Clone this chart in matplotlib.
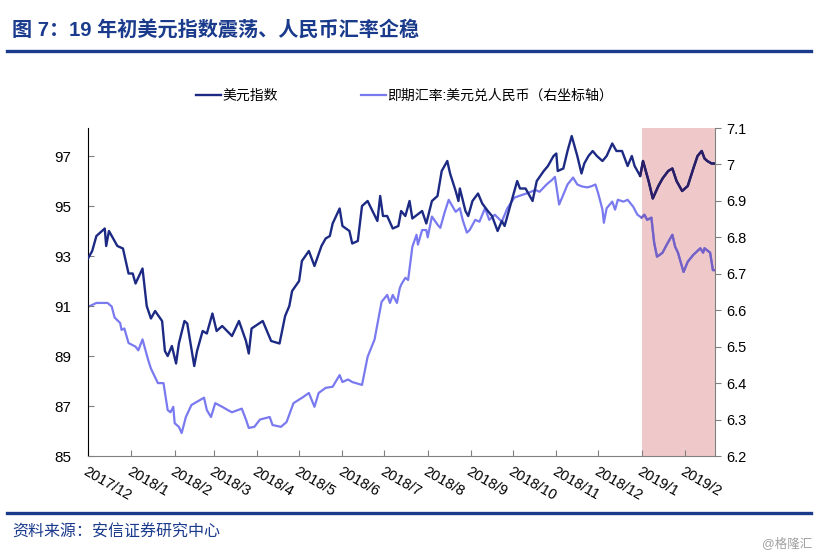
import matplotlib
matplotlib.use("Agg")
import matplotlib.pyplot as plt
import numpy as np
import pandas as pd

plt.rcParams["font.family"] = ["Liberation Sans", "Noto Sans CJK SC"]

# 美元指数 (left axis)
dxy_dates = [
    "2017-12-01", "2017-12-04", "2017-12-07", "2017-12-13", "2017-12-14", "2017-12-16",
    "2017-12-22", "2017-12-26", "2017-12-30", "2018-01-02", "2018-01-04", "2018-01-09",
    "2018-01-12", "2018-01-15", "2018-01-18", "2018-01-23", "2018-01-25", "2018-01-27",
    "2018-01-30", "2018-02-02", "2018-02-04", "2018-02-08", "2018-02-10", "2018-02-15",
    "2018-02-17", "2018-02-21", "2018-02-24", "2018-02-28", "2018-03-03", "2018-03-07",
    "2018-03-14", "2018-03-19", "2018-03-24", "2018-03-26", "2018-03-28", "2018-04-05",
    "2018-04-11", "2018-04-17", "2018-04-21", "2018-04-24", "2018-04-26", "2018-05-01",
    "2018-05-03", "2018-05-08", "2018-05-12", "2018-05-17", "2018-05-20", "2018-05-23",
    "2018-05-25", "2018-05-30", "2018-06-01", "2018-06-06", "2018-06-08", "2018-06-12",
    "2018-06-15", "2018-06-19", "2018-06-26", "2018-06-28", "2018-06-30", "2018-07-03",
    "2018-07-07", "2018-07-11", "2018-07-13", "2018-07-16", "2018-07-19", "2018-07-21",
    "2018-07-28", "2018-07-31", "2018-08-04", "2018-08-08", "2018-08-11", "2018-08-15",
    "2018-08-17", "2018-08-21", "2018-08-23", "2018-08-24", "2018-08-28", "2018-08-30",
    "2018-09-02", "2018-09-06", "2018-09-09", "2018-09-13", "2018-09-16", "2018-09-20",
    "2018-09-23", "2018-09-25", "2018-09-29", "2018-10-04", "2018-10-06", "2018-10-10",
    "2018-10-12", "2018-10-15", "2018-10-18", "2018-10-23", "2018-10-26", "2018-10-30",
    "2018-11-01", "2018-11-02", "2018-11-06", "2018-11-09", "2018-11-12", "2018-11-16",
    "2018-11-19", "2018-11-21", "2018-11-24", "2018-11-27", "2018-11-30", "2018-12-04",
    "2018-12-07", "2018-12-11", "2018-12-14", "2018-12-18", "2018-12-22", "2018-12-25",
    "2018-12-27", "2018-12-31", "2019-01-02", "2019-01-06", "2019-01-09", "2019-01-13",
    "2019-01-16", "2019-01-20", "2019-01-23", "2019-01-26", "2019-01-30", "2019-02-03",
    "2019-02-07", "2019-02-10", "2019-02-13", "2019-02-15", "2019-02-17", "2019-02-20",
    "2019-02-22",
]
dxy_vals = [
    92.9, 93.2, 93.8, 94.1, 93.4, 94.0,
    93.4, 93.3, 92.3, 92.3, 91.9, 92.5,
    91.0, 90.5, 90.8, 90.4, 89.2, 89.0,
    89.4, 88.7, 89.5, 90.4, 90.3, 88.6,
    89.2, 90.0, 89.9, 90.7, 90.0, 90.2,
    89.8, 90.4, 89.6, 89.1, 90.1, 90.4,
    89.6, 89.5, 90.6, 91.0, 91.6, 92.0,
    92.8, 93.2, 92.6, 93.4, 93.7, 93.8,
    94.3, 94.9, 94.2, 94.0, 93.5, 93.6,
    95.0, 95.2, 94.4, 95.4, 94.6, 94.6,
    94.1, 94.2, 94.8, 94.6, 95.2, 94.5,
    94.8, 94.3, 95.2, 95.4, 96.4, 96.8,
    96.3, 95.6, 95.2, 95.7, 94.8, 94.6,
    95.2, 95.5, 95.1, 94.8, 94.6, 94.0,
    94.4, 94.2, 95.0, 96.0, 95.7, 95.7,
    95.5, 95.2, 96.0, 96.4, 96.6, 97.0,
    97.1, 96.4, 96.5, 97.2, 97.8, 97.0,
    96.3, 96.7, 97.0, 97.2, 97.0, 96.8,
    97.0, 97.5, 97.2, 97.2, 96.6, 97.0,
    96.6, 96.2, 96.8, 96.0, 95.3, 95.8,
    96.1, 96.4, 96.5, 96.0, 95.6, 95.8,
    96.5, 97.0, 97.2, 96.9, 96.8, 96.7,
    96.7,
]

# 即期汇率:美元兑人民币 (right axis)
cny_dates = [
    "2017-12-01", "2017-12-07", "2017-12-15", "2017-12-18", "2017-12-20", "2017-12-24",
    "2017-12-25", "2017-12-27", "2017-12-30", "2018-01-04", "2018-01-06", "2018-01-09",
    "2018-01-13", "2018-01-15", "2018-01-20", "2018-01-24", "2018-01-27", "2018-01-29",
    "2018-01-31", "2018-02-01", "2018-02-04", "2018-02-06", "2018-02-09", "2018-02-13",
    "2018-02-22", "2018-02-24", "2018-02-27", "2018-03-02", "2018-03-07", "2018-03-11",
    "2018-03-14", "2018-03-21", "2018-03-24", "2018-03-26", "2018-03-30", "2018-04-03",
    "2018-04-10", "2018-04-12", "2018-04-18", "2018-04-22", "2018-04-27", "2018-05-04",
    "2018-05-08", "2018-05-12", "2018-05-15", "2018-05-20", "2018-05-25", "2018-05-30",
    "2018-06-01", "2018-06-05", "2018-06-08", "2018-06-15", "2018-06-19", "2018-06-24",
    "2018-06-29", "2018-07-03", "2018-07-05", "2018-07-07", "2018-07-10", "2018-07-12",
    "2018-07-13", "2018-07-16", "2018-07-18", "2018-07-21", "2018-07-24", "2018-07-25",
    "2018-07-28", "2018-07-31", "2018-08-01", "2018-08-04", "2018-08-08", "2018-08-10",
    "2018-08-13", "2018-08-16", "2018-08-21", "2018-08-24", "2018-08-26", "2018-08-29",
    "2018-08-31", "2018-09-04", "2018-09-07", "2018-09-11", "2018-09-14", "2018-09-18",
    "2018-09-23", "2018-09-27", "2018-10-02", "2018-10-08", "2018-10-12", "2018-10-17",
    "2018-10-20", "2018-10-25", "2018-10-29", "2018-10-31", "2018-11-03", "2018-11-06",
    "2018-11-09", "2018-11-13", "2018-11-16", "2018-11-19", "2018-11-23", "2018-11-26",
    "2018-11-29", "2018-12-01", "2018-12-04", "2018-12-05", "2018-12-07", "2018-12-11",
    "2018-12-13", "2018-12-15", "2018-12-19", "2018-12-22", "2018-12-26", "2018-12-29",
    "2019-01-01", "2019-01-03", "2019-01-05", "2019-01-08", "2019-01-10", "2019-01-12",
    "2019-01-14", "2019-01-16", "2019-01-19", "2019-01-23", "2019-01-25", "2019-01-27",
    "2019-01-31", "2019-02-03", "2019-02-07", "2019-02-12", "2019-02-14", "2019-02-15",
    "2019-02-19", "2019-02-21", "2019-02-22",
]
cny_vals = [
    6.609, 6.620, 6.620, 6.610, 6.580, 6.565,
    6.546, 6.550, 6.510, 6.500, 6.490, 6.520,
    6.464, 6.440, 6.400, 6.400, 6.326, 6.320,
    6.335, 6.290, 6.280, 6.263, 6.307, 6.340,
    6.360, 6.326, 6.307, 6.345, 6.335, 6.326,
    6.320, 6.330, 6.300, 6.277, 6.280, 6.300,
    6.307, 6.285, 6.280, 6.293, 6.345, 6.362,
    6.373, 6.335, 6.373, 6.387, 6.390, 6.422,
    6.403, 6.410, 6.403, 6.395, 6.472, 6.520,
    6.623, 6.642, 6.620, 6.642, 6.620, 6.660,
    6.670, 6.689, 6.683, 6.774, 6.807, 6.780,
    6.820, 6.820, 6.800, 6.857, 6.835, 6.826,
    6.867, 6.903, 6.870, 6.880, 6.848, 6.813,
    6.820, 6.848, 6.843, 6.880, 6.848, 6.862,
    6.843, 6.880, 6.909, 6.917, 6.922, 6.930,
    6.925, 6.945, 6.958, 6.966, 6.890, 6.917,
    6.945, 6.964, 6.945, 6.940, 6.937, 6.940,
    6.945, 6.920, 6.876, 6.840, 6.880, 6.898,
    6.876, 6.903, 6.898, 6.903, 6.884, 6.862,
    6.854, 6.862, 6.848, 6.854, 6.785, 6.747,
    6.752, 6.758, 6.780, 6.807, 6.774, 6.758,
    6.705, 6.733, 6.752, 6.770, 6.758, 6.770,
    6.758, 6.710, 6.710,
]

left_ticks = [85, 87, 89, 91, 93, 95, 97]
right_ticks = [6.2, 6.3, 6.4, 6.5, 6.6, 6.7, 6.8, 6.9, 7.0, 7.1]
right_labels = ["6.2", "6.3", "6.4", "6.5", "6.6", "6.7", "6.8", "6.9", "7", "7.1"]
month_ticks = pd.date_range("2017-12-01", "2019-02-01", freq="MS")
month_labels = [f"{d.year}/{d.month}" for d in month_ticks]
shade_start = pd.Timestamp("2019-01-01")
x_start = pd.Timestamp("2017-12-01")
x_end = pd.Timestamp("2019-02-22 12:00")

navy = "#1C2A84"
lilac = "#7A7AF0"
title_blue = "#1A3A8C"
# colours of the lines seen through the pink block
navy_shaded = "#2A1E66"
lilac_shaded = "#7560C4"

dxy_d = pd.to_datetime(dxy_dates)
cny_d = pd.to_datetime(cny_dates)
dxy_v = np.array(dxy_vals)
cny_v = np.array(cny_vals)

fig = plt.figure(figsize=(8.17, 5.58), dpi=100)
ax = fig.add_axes([88 / 817, 102 / 558, 627 / 817, 328 / 558])
ax2 = ax.twinx()

# put the dxy axes above the twin; the pink block lives on the twin (bottom)
ax.set_zorder(ax2.get_zorder() + 1)
ax.patch.set_visible(False)
ax2.axvspan(shade_start, x_end, color="#EFC9C9", zorder=0, lw=0)

ax.plot(dxy_d, dxy_v, color=navy, lw=1.7, zorder=3)
ax2.plot(cny_d, cny_v, color=lilac, lw=1.6, zorder=2)

m1 = dxy_d >= pd.Timestamp("2018-12-31")
ax.plot(dxy_d[m1], dxy_v[m1], color=navy_shaded, lw=1.7, zorder=4)
m2 = cny_d >= pd.Timestamp("2018-12-31")
ax2.plot(cny_d[m2], cny_v[m2], color=lilac_shaded, lw=1.6, zorder=3)

ax.set_xlim(x_start, x_end)
ax.set_ylim(85, 85 + 328 / 25)
ax2.set_ylim(6.2, 7.1)

ax.set_yticks(left_ticks)
ax.set_yticklabels([str(v) for v in left_ticks], fontsize=11)
ax2.set_yticks(right_ticks)
ax2.set_yticklabels(right_labels, fontsize=10.5)

ax.set_xticks(month_ticks)
ax.set_xticklabels(month_labels, fontsize=10.5, rotation=-30,
                   ha="left", va="top", rotation_mode="anchor")

ax.tick_params(axis="y", direction="in", length=4, color="#808080", pad=12)
ax.tick_params(axis="x", direction="in", length=4, color="#808080", pad=6)
ax2.tick_params(axis="y", direction="out", length=4, color="#808080", pad=4)

for a in (ax, ax2):
    a.spines["top"].set_visible(False)
ax.spines["left"].set_color("black")
ax.spines["right"].set_visible(False)
ax.spines["bottom"].set_color("#808080")
ax2.spines["left"].set_visible(False)
ax2.spines["bottom"].set_visible(False)
ax2.spines["right"].set_color("#808080")

# legend
h1 = plt.Line2D([], [], color=navy, lw=1.7)
h2 = plt.Line2D([], [], color=lilac, lw=1.6)
fig.legend([h1, h2], ["美元指数", "即期汇率:美元兑人民币（右坐标轴）"],
           loc="center", bbox_to_anchor=(0.495, 1 - 96 / 558), ncol=2,
           frameon=False, fontsize=10, handlelength=1.8, handletextpad=0.1,
           columnspacing=6)

# title and rules
fig.text(12 / 817, 1 - 30 / 558, "图 7：19 年初美元指数震荡、人民币汇率企稳",
         fontsize=14.5, fontweight="bold", color=title_blue, va="center", ha="left")
fig.add_artist(plt.Line2D([7 / 817, 811 / 817], [1 - 51 / 558, 1 - 51 / 558],
                          color=title_blue, lw=2.4))
fig.add_artist(plt.Line2D([7 / 817, 811 / 817], [1 - 513 / 558, 1 - 513 / 558],
                          color=title_blue, lw=2.4))
fig.text(12 / 817, 1 - 532 / 558, "资料来源：安信证券研究中心",
         fontsize=11.5, color=title_blue, va="center", ha="left")
fig.text(812 / 817, 1 - 544 / 558, "@格隆汇", fontsize=9, color="#A0A0A0",
         va="center", ha="right")

fig.savefig("out.png", dpi=100)
